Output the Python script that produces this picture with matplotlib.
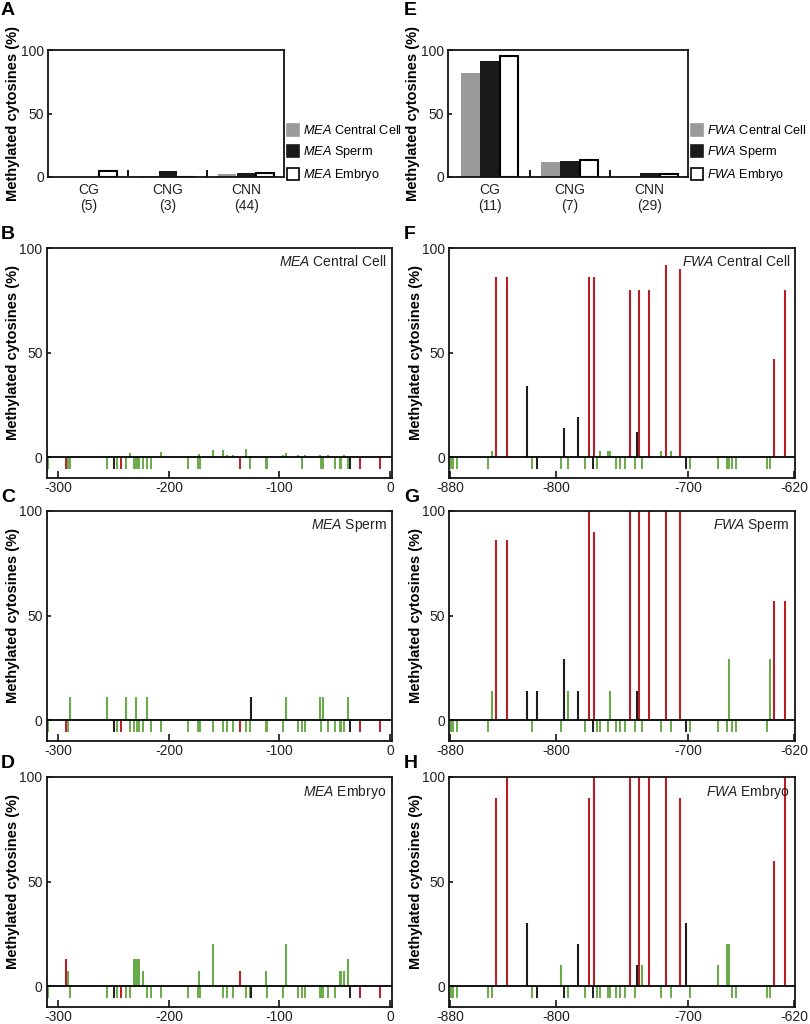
import numpy as np
import matplotlib
matplotlib.use("Agg")
import matplotlib.pyplot as plt
from matplotlib.patches import Patch

plt.rcParams['font.family'] = ['Liberation Sans', 'DejaVu Sans']
plt.rcParams['mathtext.fontset'] = 'custom'
plt.rcParams['mathtext.it'] = 'Liberation Sans:italic'
plt.rcParams['mathtext.rm'] = 'Liberation Sans'

# ---------------- data ----------------
contexts = ['CG', 'CNG', 'CNN']
mea_counts = [5, 3, 44]
fwa_counts = [11, 7, 29]
mea_central = [0, 1, 2]
mea_sperm = [0, 5, 3]
mea_embryo = [4.5, 0, 3.5]
fwa_central = [82, 11.5, 1]
fwa_sperm = [91, 12.5, 3]
fwa_embryo = [95.5, 13, 2.5]

mea_pos = [-309, -293, -291, -289, -256, -250, -247, -243, -239, -235,
           -232, -230, -229, -227, -223, -220, -216, -207, -183, -174,
           -173, -172, -160, -151, -147, -142, -136, -130, -127, -126,
           -112, -111, -97, -94, -83, -80, -77, -63, -62, -61,
           -56, -50, -45, -44, -42, -38, -36, -27, -9]
mea_ctx = ['CNN', 'CG', 'CNN', 'CNN', 'CNN', 'CNG', 'CNN', 'CG', 'CNN', 'CNN',
           'CNN', 'CNN', 'CNN', 'CNN', 'CNN', 'CNN', 'CNN', 'CNN', 'CNN', 'CNN',
           'CNN', 'CNN', 'CNN', 'CNN', 'CNN', 'CNN', 'CG', 'CNN', 'CNN', 'CNG',
           'CNN', 'CNN', 'CNN', 'CNN', 'CNN', 'CNN', 'CNN', 'CNN', 'CNN', 'CNN',
           'CNN', 'CNN', 'CNN', 'CNN', 'CNN', 'CNN', 'CNG', 'CG', 'CG']
mea_cc_vals = [0, 0, 0, 0, 0, 0, 0, 0, 0, 2,
               0, 0, 0, 0, 0, 0, 0, 2.5, 0, 0,
               1.5, 0, 3.5, 3.5, 1, 1, 0, 4, 0, 0.5,
               0, 0, 1, 2, 1, 0, 1, 1, 0, 0,
               1, 0, 0, 0, 1, 0, 0, 0, 0]
mea_sp_vals = [0, 0, 0, 11, 11, 0, 0, 0, 11, 0,
               0, 11, 0, 0, 0, 11, 0, 0, 0, 0,
               0, 0, 0, 0, 0, 0, 0, 0, 0, 11,
               0, 0, 0, 11, 0, 0, 0, 11, 0, 11,
               0, 0, 0, 0, 0, 11, 0, 0, 0]
mea_em_vals = [0, 13, 7, 0, 0, 0, 0, 0, 0, 0,
               13, 13, 13, 13, 7, 0, 0, 0, 0, 0,
               7, 0, 20, 0, 0, 0, 7, 0, 0, 0,
               7, 0, 0, 20, 0, 0, 0, 0, 0, 0,
               0, 0, 7, 7, 7, 13, 0, 0, 0]

fwa_pos = [-879, -878, -875, -851, -848, -845, -837, -822, -818, -814,
           -796, -794, -791, -783, -778, -775, -772, -771, -769, -767,
           -761, -759, -755, -752, -748, -744, -740, -739, -737, -735,
           -730, -721, -717, -713, -706, -702, -699, -678, -671, -669,
           -667, -664, -641, -638, -635, -627]
fwa_ctx = ['CNN', 'CNN', 'CNN', 'CNN', 'CNN', 'CG', 'CG', 'CNG', 'CNN', 'CNG',
           'CNN', 'CNG', 'CNN', 'CNG', 'CNN', 'CG', 'CNG', 'CG', 'CNN', 'CNN',
           'CNN', 'CNN', 'CNN', 'CNN', 'CNN', 'CG', 'CNN', 'CNG', 'CG', 'CNN',
           'CG', 'CNN', 'CG', 'CNN', 'CG', 'CNG', 'CNN', 'CNN', 'CNN', 'CNN',
           'CNN', 'CNN', 'CNN', 'CNN', 'CG', 'CG']
fwa_cc_vals = [0, 0, 0, 0, 3, 86, 86, 34, 0, 0,
               0, 14, 0, 19, 0, 86, 0, 86, 0, 3,
               3, 3, 0, 0, 0, 80, 0, 12, 80, 0,
               80, 3, 92, 3, 90, 0, 0, 0, 0, 0,
               0, 0, 0, 0, 47, 80]
fwa_sp_vals = [0, 0, 0, 0, 14, 86, 86, 14, 0, 14,
               0, 29, 14, 14, 0, 100, 0, 90, 0, 0,
               0, 14, 0, 0, 0, 100, 0, 14, 100, 0,
               100, 0, 100, 0, 100, 0, 0, 0, 0, 29,
               0, 0, 0, 29, 57, 57]
fwa_em_vals = [0, 0, 0, 0, 0, 90, 100, 30, 0, 0,
               10, 0, 0, 20, 0, 90, 0, 100, 0, 0,
               0, 0, 0, 0, 0, 100, 0, 10, 100, 10,
               100, 0, 100, 0, 90, 30, 0, 10, 20, 20,
               0, 0, 0, 0, 60, 100]

mea_ticks = [-300, -200, -100, 0]
fwa_ticks = [-880, -800, -700, -620]

# ---------------- styling ----------------
W, H = 810, 1024
fig = plt.figure(figsize=(W / 100, H / 100), dpi=100)
ctx_col = {'CG': '#b81e28', 'CNG': '#1c1c1c', 'CNN': '#6aaa4a'}
bar_cols = ['#9a9a9a', '#1a1a1a', 'white']
TXT = '#222222'
FS = 10
YLFS = 10.5


def rect(l, t, r, b):
    return [l / W, 1 - b / H, (r - l) / W, (b - t) / H]


def style(ax):
    for s in ax.spines.values():
        s.set_linewidth(1.3)
        s.set_color('#111111')
    ax.tick_params(direction='in', labelsize=FS, labelcolor=TXT, width=1.1,
                   pad=3)


def bar_panel(ax, vals, counts, gene, ylx):
    x = np.arange(len(contexts))
    offs = [-0.24, 0.0, 0.24]
    for v, o, c in zip(vals, offs, bar_cols):
        ax.bar(x + o, v, width=0.23, color=c,
               edgecolor='black' if c == 'white' else c,
               linewidth=1.5 if c == 'white' else 0)
    ax.set_xlim(-0.52, 2.48)
    ax.set_ylim(0, 100)
    ax.set_yticks([0, 50, 100])
    ax.set_xticks(x, [f'{c}\n({n})' for c, n in zip(contexts, counts)])
    ax.tick_params(axis='x', length=0, pad=4)
    ax.set_xticks([0.5, 1.5], minor=True)
    ax.tick_params(axis='x', which='minor', direction='in', length=5,
                   width=1.3)
    ax.tick_params(axis='y', length=3)
    for lab in ax.get_xticklabels():
        lab.set_linespacing(1.25)
    ax.set_ylabel('Methylated cytosines (%)', fontsize=YLFS, fontweight='bold')
    ax.yaxis.set_label_coords(ylx, 0.5)
    handles = [Patch(facecolor=c, edgecolor='black' if c == 'white' else c,
                     linewidth=1.2) for c in bar_cols]
    labels = [rf'$\mathit{{{gene}}}$ Central Cell',
              rf'$\mathit{{{gene}}}$ Sperm',
              rf'$\mathit{{{gene}}}$ Embryo']
    ax.legend(handles, labels, loc='lower left', bbox_to_anchor=(1.0, -0.075),
              frameon=False, fontsize=9.2, handlelength=0.95,
              handleheight=1.0, handletextpad=0.25, labelspacing=0.55,
              borderaxespad=0.0, borderpad=0.25)


def site_panel(ax, pos, ctx, vals, xlim, ticks, title, ylx):
    pos = np.asarray(pos, float)
    vals = np.asarray(vals, float)
    ctx = np.asarray(ctx)
    for c in ['CNN', 'CNG', 'CG']:
        m = ctx == c
        up = m & (vals > 0)
        dn = m & (vals <= 0)
        ax.vlines(pos[dn], -5.5, 0, colors=ctx_col[c], linewidth=1.4)
        ax.vlines(pos[up], 0, vals[up], colors=ctx_col[c], linewidth=1.5)
    ax.axhline(0, color='black', linewidth=1.3, zorder=5)
    ax.set_xlim(*xlim)
    ax.set_ylim(-10, 100)
    ax.set_yticks([0, 50, 100])
    ax.set_xticks(ticks, [str(t) for t in ticks])
    ax.tick_params(axis='x', length=5, pad=2)
    ax.tick_params(axis='y', length=3)
    ax.set_ylabel('Methylated cytosines (%)', fontsize=YLFS, fontweight='bold')
    ax.yaxis.set_label_coords(ylx, 0.545)
    gene, rest = title.split(' ', 1)
    ax.text(0.985, 0.975, rf'$\mathit{{{gene}}}$ {rest}', transform=ax.transAxes,
            ha='right', va='top', fontsize=10, color=TXT)


# ---------------- panels ----------------
axA = fig.add_axes(rect(48, 50, 284, 177))
style(axA)
bar_panel(axA, [mea_central, mea_sperm, mea_embryo], mea_counts, 'MEA', -0.119)

axE = fig.add_axes(rect(448, 50, 688, 177))
style(axE)
bar_panel(axE, [fwa_central, fwa_sperm, fwa_embryo], fwa_counts, 'FWA', -0.115)

left = (46.7, 391.7)
right = (449.3, 795)
rows = [(248, 478), (511, 741), (777, 1007)]
mea_sets = [(mea_cc_vals, 'MEA Central Cell'), (mea_sp_vals, 'MEA Sperm'),
            (mea_em_vals, 'MEA Embryo')]
fwa_sets = [(fwa_cc_vals, 'FWA Central Cell'), (fwa_sp_vals, 'FWA Sperm'),
            (fwa_em_vals, 'FWA Embryo')]
for (t, b), (mv, mt), (fv, ft) in zip(rows, mea_sets, fwa_sets):
    ax = fig.add_axes(rect(left[0], t, left[1], b))
    style(ax)
    site_panel(ax, mea_pos, mea_ctx, mv, (-310.5, 1.5), mea_ticks, mt, -0.077)
    ax = fig.add_axes(rect(right[0], t, right[1], b))
    style(ax)
    site_panel(ax, fwa_pos, fwa_ctx, fv, (-880.5, -619.5), fwa_ticks, ft,
               -0.076)

# panel letters
letters = [('A', 1, 2, 'top'), ('E', 404, 2, 'top'),
           ('B', 1, 243, 'bottom'), ('F', 404, 243, 'bottom'),
           ('C', 1, 506, 'bottom'), ('G', 404, 506, 'bottom'),
           ('D', 1, 772, 'bottom'), ('H', 404, 772, 'bottom')]
for L, x, y, va in letters:
    fig.text(x / W, 1 - y / H, L, fontsize=14, fontweight='bold', ha='left',
             va=va, color='black')

fig.savefig('out.png', dpi=100)
